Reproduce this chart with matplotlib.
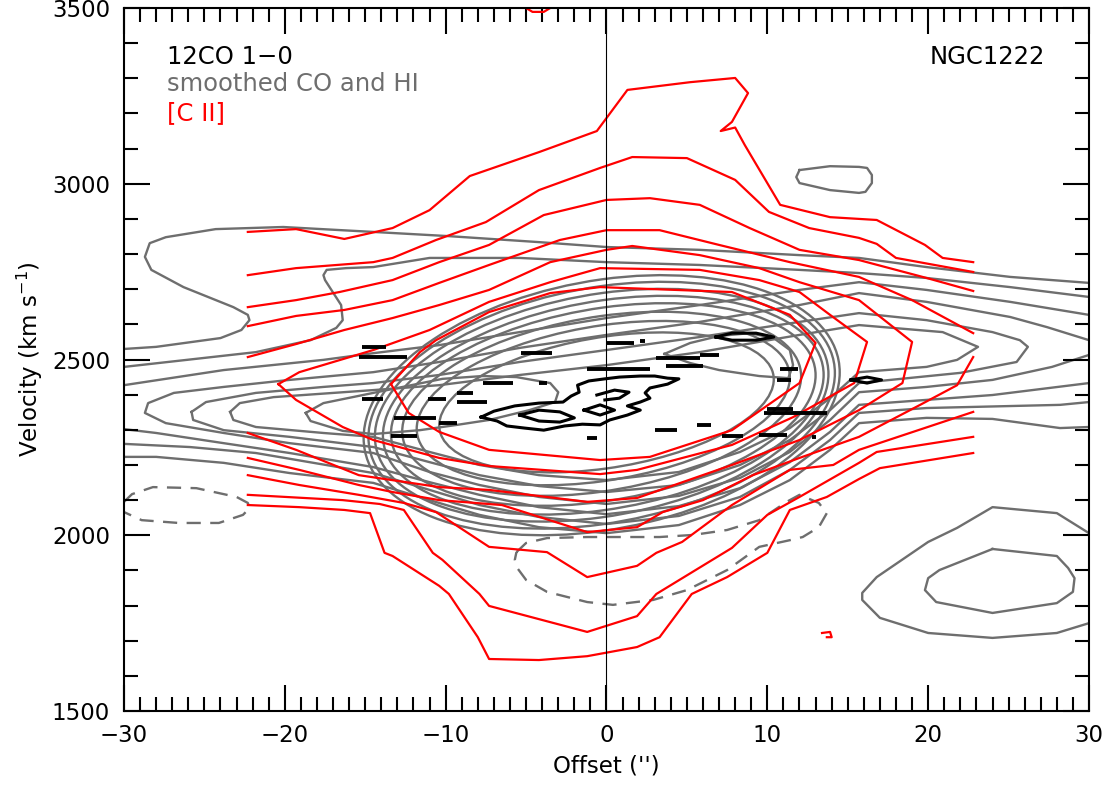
import numpy as np
import matplotlib
matplotlib.use("Agg")
import matplotlib.pyplot as plt
from matplotlib.patches import Ellipse
from matplotlib.transforms import Affine2D
from matplotlib.ticker import MultipleLocator

plt.rcParams['font.family'] = ['DejaVu Sans']

# ---------------- data (offset in arcsec, velocity in km/s) ----------------
# [C II] contours (red)
cii_1_top = [(-22.3,2863),(-19.3,2871),(-16.3,2843),(-13.3,2874),(-11.0,2925),(-8.5,3022),(-4.2,3090),(-0.6,3150),(1.3,3267),(5.2,3289),(8.0,3301),(8.8,3258),(7.8,3176),(7.1,3150),(8.0,3160),(8.6,3110),(10.8,2940),(13.9,2905),(16.8,2897),(19.8,2826),(20.9,2789),(22.8,2777)]
cii_1_bot = [(-22.3,2086),(-19.1,2080),(-16.3,2072),(-14.7,2063),(-13.8,1950),(-13.3,1941),(-10.4,1856),(-9.8,1833),(-8.0,1710),(-7.3,1648),(-4.2,1645),(-1.2,1656),(1.9,1682),(3.3,1710),(5.3,1833),(7.5,1881),(10.0,1950),(11.4,2072),(13.7,2109),(15.7,2160),(17.0,2191),(22.8,2234)]
cii_2_top = [(-22.3,2740),(-19.3,2760),(-14.5,2777),(-13.3,2789),(-10.6,2840),(-7.5,2891),(-4.2,2982),(-0.4,3045),(1.6,3076),(5.0,3073),(8.0,3011),(10.1,2920),(12.6,2874),(15.7,2846),(16.8,2829),(18.0,2789),(22.8,2749)]
cii_2_bot = [(-22.3,2115),(-16.4,2100),(-14.1,2089),(-12.6,2072),(-10.8,1950),(-10.2,1930),(-7.9,1833),(-7.3,1799),(-1.2,1725),(1.9,1770),(3.1,1833),(7.8,1964),(10.0,2058),(12.0,2109),(15.7,2206),(16.8,2237),(22.8,2280)]
cii_3_top = [(-22.3,2649),(-19.3,2669),(-16.6,2692),(-13.3,2726),(-10.4,2777),(-7.3,2826),(-3.9,2911),(0.0,2954),(2.7,2959),(5.8,2940),(8.9,2874),(12.0,2812),(15.7,2783),(19.9,2732),(22.8,2695)]
cii_3_bot = [(-22.3,2171),(-19.1,2143),(-15.4,2115),(-12.6,2092),(-10.6,2066),(-7.3,1967),(-3.7,1952),(-1.2,1881),(1.9,1913),(3.1,1950),(4.7,1981),(7.8,2086),(11.4,2186),(14.1,2200),(15.7,2243),(22.8,2351)]
cii_4_top = [(-22.3,2595),(-19.3,2624),(-16.3,2641),(-13.3,2669),(-10.4,2718),(-7.3,2769),(-2.9,2840),(0.0,2868),(3.3,2868),(7.0,2826),(11.4,2777),(15.7,2735),(19.0,2669),(22.8,2575)]
cii_4_bot = [(-22.3,2220),(-19.1,2186),(-15.4,2143),(-13.3,2123),(-10.4,2100),(-6.5,2086),(-1.2,2009),(1.9,2023),(3.5,2066),(6.0,2100),(9.1,2171),(12.0,2220),(15.7,2280),(19.5,2371),(21.8,2427),(22.8,2507)]
cii_5 = [(-22.3,2507),(-19.3,2544),(-16.3,2584),(-13.3,2618),(-10.4,2655),(-7.3,2698),(-3.5,2777),(0.0,2812),(1.6,2823),(5.8,2797),(9.5,2760),(12.0,2720),(15.7,2669),(19.0,2550),(18.4,2433),(15.7,2356),(12.0,2271),(7.8,2200),(1.9,2106),(-1.2,2095),(-7.3,2129),(-10.4,2137),(-15.4,2171),(-19.3,2243),(-22.3,2291)]
cii_6 = [(-20.4,2430),(-19.1,2464),(-14.5,2527),(-11.0,2584),(-7.3,2664),(-3.5,2720),(-0.4,2760),(5.8,2755),(9.5,2726),(12.0,2692),(13.9,2627),(16.2,2550),(15.4,2433),(11.6,2336),(7.8,2257),(1.9,2186),(-0.4,2174),(-7.3,2197),(-10.4,2220),(-14.5,2271),(-16.4,2308),(-19.3,2385),(-20.4,2430)]
cii_7 = [(-13.4,2430),(-11.6,2521),(-10.6,2555),(-7.3,2635),(-3.5,2689),(-0.4,2706),(7.8,2692),(11.4,2627),(13.0,2547),(12.0,2433),(7.8,2299),(2.7,2223),(-0.4,2214),(-7.3,2243),(-10.4,2294),(-12.3,2348),(-13.4,2430)]
cii_hook = [(13.4,1722),(13.9,1725),(14.0,1710),(13.7,1710)]
cii_top_edge = [(-5.0,3500),(-4.6,3489),(-3.9,3489),(-3.5,3500)]

# smoothed HI contours (gray)
hi_1_top = [(-30.0,2530),(-28.0,2536),(-24.0,2561),(-22.7,2584),(-22.2,2612),(-22.3,2627),(-23.2,2649),(-26.3,2706),(-28.3,2755),(-28.7,2792),(-28.4,2831),(-27.4,2848),(-24.3,2871),(-20.1,2877),(-14.5,2863),(-9.8,2851),(-4.2,2834),(0.0,2820),(5.8,2812),(12.0,2797),(15.7,2789),(19.9,2763),(25.1,2735),(30.0,2718)]
hi_1_bot = [(-30.0,2223),(-28.0,2223),(-23.8,2206),(-19.7,2177),(-14.5,2149),(-11.0,2100),(-7.9,2058),(-4.2,2023),(0.0,2006),(4.5,2029),(8.3,2086),(11.4,2157),(13.9,2243),(15.7,2319),(19.9,2334),(24.0,2331),(28.2,2305),(30.0,2308)]
hi_2_top = [(-30.0,2479),(-21.8,2521),(-18.4,2555),(-16.8,2590),(-16.4,2612),(-16.5,2655),(-17.5,2726),(-17.6,2740),(-17.4,2755),(-16.2,2760),(-14.5,2763),(-11.0,2789),(-5.4,2789),(0.0,2777),(5.8,2769),(12.0,2755),(15.7,2746),(19.9,2732),(25.1,2706),(30.0,2678)]
hi_2_bot = [(-30.0,2260),(-25.9,2251),(-21.8,2234),(-14.5,2177),(-11.0,2129),(-7.9,2086),(-4.2,2052),(0.0,2032),(4.5,2055),(8.3,2109),(11.4,2186),(13.9,2271),(15.7,2348),(19.9,2362),(28.2,2371),(30.0,2379)]
hi_3_top = [(-30.0,2427),(-23.8,2470),(-17.6,2499),(-14.5,2518),(-10.4,2541),(-5.4,2578),(0.0,2618),(5.8,2655),(12.0,2698),(15.7,2720),(19.9,2698),(25.1,2664),(30.0,2627)]
hi_3_bot = [(-30.0,2302),(-28.0,2291),(-23.8,2262),(-19.7,2234),(-14.5,2194),(-11.0,2151),(-7.9,2115),(-4.2,2080),(0.0,2060),(4.5,2083),(8.3,2134),(11.4,2208),(13.9,2294),(15.7,2371),(24.0,2399),(30.0,2433)]
hi_4 = [(30.0,2555),(27.4,2592),(25.1,2621),(19.9,2664),(15.7,2689),(12.0,2655),(5.8,2607),(0.0,2570),(-5.4,2533),(-10.4,2493),(-14.5,2464),(-19.7,2442),(-23.8,2422),(-26.9,2405),(-28.5,2376),(-28.7,2348),(-27.4,2319),(-23.8,2291),(-19.7,2262),(-14.5,2234),(-11.0,2180),(-7.9,2143),(-4.2,2109),(0.0,2089),(4.5,2112),(8.3,2163),(11.4,2237),(13.9,2328),(15.7,2407),(19.9,2422),(24.0,2442),(27.7,2479),(30.0,2513)]
hi_5 = [(-25.8,2351),(-24.9,2379),(-21.8,2405),(-17.6,2422),(-14.5,2433),(-10.4,2456),(-5.4,2493),(0.0,2527),(5.8,2564),(12.0,2607),(15.7,2632),(19.9,2612),(24.0,2578),(25.7,2555),(26.2,2536),(25.5,2493),(22.0,2462),(15.7,2433),(13.9,2356),(11.4,2271),(8.3,2200),(4.5,2143),(0.0,2123),(-4.2,2140),(-7.9,2171),(-11.0,2208),(-14.5,2251),(-19.7,2280),(-23.8,2299),(-25.7,2328),(-25.8,2351)]
hi_6 = [(-23.4,2351),(-22.8,2376),(-20.7,2393),(-14.5,2413),(-10.4,2427),(-5.4,2456),(0.0,2484),(5.8,2521),(12.0,2570),(15.7,2598),(20.9,2578),(23.1,2536),(21.8,2499),(19.9,2479),(15.7,2464),(13.9,2390),(11.4,2305),(8.3,2237),(4.5,2180),(0.0,2157),(-4.2,2171),(-7.9,2200),(-11.0,2237),(-14.5,2280),(-17.6,2291),(-21.8,2308),(-23.2,2328),(-23.4,2351)]
hi_7 = [(-18.7,2348),(-17.6,2376),(-14.5,2405),(-10.2,2445),(-7.7,2453),(-5.6,2450),(-3.5,2433),(-3.0,2407),(-3.2,2379),(-4.8,2356),(-7.3,2328),(-9.3,2314),(-11.6,2299),(-14.5,2288),(-16.4,2297),(-18.4,2325),(-18.7,2348)]
gray_ne_loop = [(12.0,3039),(13.9,3050),(15.7,3048),(16.2,3045),(16.5,3025),(16.5,3002),(16.1,2977),(15.7,2974),(13.9,2982),(12.0,3002),(11.8,3019),(12.0,3039)]
gray_se_outer = [(30.0,2006),(28.0,2063),(24.0,2080),(21.8,2021),(20.0,1981),(16.8,1881),(15.9,1836),(15.9,1816),(17.0,1765),(20.0,1722),(24.0,1708),(28.0,1722),(30.0,1750)]
gray_se_inner = [(24.0,1961),(28.0,1941),(28.7,1907),(29.1,1878),(29.0,1839),(28.0,1807),(24.0,1779),(20.5,1810),(19.8,1844),(20.0,1878),(20.7,1901),(24.0,1961)]
neg_sw = [(-30.0,2095),(-29.5,2117),(-28.2,2137),(-25.5,2134),(-23.0,2109),(-22.3,2092),(-22.2,2077),(-22.6,2058),(-24.1,2035),(-26.6,2035),(-28.9,2043),(-30.0,2066)]
neg_s = [(-5.6,1952),(-5.0,1978),(-3.7,1992),(-1.2,1995),(1.2,1995),(3.3,1995),(5.4,2001),(7.5,2015),(9.5,2043),(11.2,2095),(12.0,2115),(13.2,2092),(13.7,2063),(13.2,2023),(12.2,1995),(11.4,1986),(9.5,1967),(7.5,1901),(5.0,1844),(2.9,1816),(0.4,1802),(-1.2,1810),(-3.7,1839),(-5.0,1873),(-5.6,1910),(-5.7,1930),(-5.6,1952)]

# smoothed CO contours (gray, nested tilted rings)
co_xc = [-0.3, -0.3, -0.3, -0.2, -0.2, -0.3, -0.2, 0.0]
co_vc = [2370, 2370, 2370, 2370, 2372, 2374, 2376, 2378]
co_width = [29.6, 29.0, 28.2, 27.4, 26.4, 24.8, 23.2, 20.8]
co_height = [716, 678, 638, 598, 552, 500, 444, 376]
co_tilt = 6.3  # km/s per arcsec
co_inner = [(3.6,2516),(5.2,2547),(7.0,2567),(8.9,2575),(10.4,2561),(11.4,2527),(11.6,2484),(11.3,2447),(9.5,2453),(7.0,2470),(5.2,2490),(3.6,2516)]

# 12CO 1-0 contours (black)
co10_blob = [(-7.8,2336),(-7.0,2353),(-5.7,2368),(-4.2,2376),(-2.7,2379),(-2.2,2396),(-1.7,2407),(-1.8,2427),(-1.1,2439),(-0.1,2445),(0.8,2450),(2.1,2453),(3.0,2453),(3.8,2447),(4.5,2445),(3.8,2430),(2.7,2419),(2.4,2405),(2.7,2390),(2.1,2379),(1.3,2368),(2.1,2356),(1.3,2342),(0.2,2328),(-0.4,2314),(-1.5,2316),(-2.6,2311),(-3.9,2299),(-5.1,2305),(-6.2,2311),(-6.8,2325),(-7.8,2336)]
co10_loop_a = [(-5.4,2342),(-4.2,2356),(-2.9,2351),(-2.0,2334),(-2.9,2322),(-4.2,2325),(-5.4,2342)]
co10_loop_b = [(-1.4,2356),(-0.4,2371),(0.5,2356),(-0.4,2342),(-1.4,2356)]
co10_wiggle = [(-0.6,2399),(0.5,2413),(1.4,2407),(0.8,2390),(-0.1,2385)]
co10_loop_n = [(6.8,2564),(7.8,2575),(9.3,2575),(10.4,2564),(9.3,2555),(7.8,2555),(6.8,2564)]
co10_loop_e = [(15.2,2442),(16.2,2450),(17.1,2442),(16.2,2433),(15.2,2442)]
co10_dash_v = [2536, 2507, 2388, 2388, 2405, 2379, 2334, 2319, 2282, 2433, 2433, 2518, 2473, 2277, 2547, 2553, 2504, 2513, 2481, 2473, 2442, 2299, 2314, 2282, 2285, 2348, 2359, 2280]
co10_dash_x0 = [-15.2, -15.4, -15.2, -11.1, -9.3, -9.3, -13.2, -10.4, -13.4, -7.7, -4.2, -5.3, -1.2, -1.2, 0.0, 2.1, 3.1, 5.8, 3.7, 10.8, 10.6, 3.0, 5.6, 7.2, 9.5, 9.8, 10.0, 12.8]
co10_dash_x1 = [-13.7, -12.4, -13.9, -10.0, -8.3, -7.4, -10.6, -9.3, -11.8, -5.8, -3.7, -3.4, 2.7, -0.6, 1.7, 2.4, 5.8, 7.0, 6.0, 11.9, 11.5, 4.4, 6.5, 8.5, 11.2, 13.7, 11.6, 13.0]

x_ticks = [-30, -20, -10, 0, 10, 20, 30]
v_ticks = [1500, 2000, 2500, 3000, 3500]

# ---------------- figure ----------------
GRAY = '#6e6e6e'
RED = '#ff0000'

fig = plt.figure(figsize=(11.11, 7.86), dpi=100)
ax = fig.add_axes([0.1116, 0.0954, 0.8686, 0.8944])


def trace(pts, **kw):
    xs, vs = zip(*pts)
    ax.plot(xs, vs, **kw)


gkw = dict(color=GRAY, lw=1.7, zorder=1, solid_joinstyle='round')
for c in [hi_1_top, hi_1_bot, hi_2_top, hi_2_bot, hi_3_top, hi_3_bot, hi_4,
          hi_5, hi_6, hi_7, gray_ne_loop, gray_se_outer, gray_se_inner, co_inner]:
    trace(c, **gkw)
for c in [neg_sw, neg_s]:
    trace(c, color=GRAY, lw=1.7, zorder=1, linestyle=(0, (6, 4)))

for xc, vc, w, h in zip(co_xc, co_vc, co_width, co_height):
    shear = Affine2D(np.array([[1.0, 0.0, 0.0],
                               [co_tilt, 1.0, -co_tilt * xc],
                               [0.0, 0.0, 1.0]]))
    ax.add_patch(Ellipse((xc, vc), w, h, fill=False, ec=GRAY, lw=1.7,
                         zorder=1, transform=shear + ax.transData))

rkw = dict(color=RED, lw=1.6, zorder=2)
for c in [cii_1_top, cii_1_bot, cii_2_top, cii_2_bot, cii_3_top, cii_3_bot,
          cii_4_top, cii_4_bot, cii_5, cii_6, cii_7, cii_hook, cii_top_edge]:
    trace(c, **rkw)

bkw = dict(color='black', lw=2.2, zorder=3)
for c in [co10_blob, co10_loop_a, co10_loop_b, co10_wiggle, co10_loop_n, co10_loop_e]:
    trace(c, **bkw)
for v, x0, x1 in zip(co10_dash_v, co10_dash_x0, co10_dash_x1):
    ax.plot([x0, x1], [v, v], color='black', lw=2.8, solid_capstyle='butt', zorder=3)

ax.axvline(0, color='black', lw=0.8, zorder=4)

ax.set_xlim(-30, 30)
ax.set_ylim(1500, 3500)
ax.set_xticks(x_ticks)
ax.set_yticks(v_ticks)
ax.xaxis.set_minor_locator(MultipleLocator(1))
ax.yaxis.set_minor_locator(MultipleLocator(100))
ax.tick_params(which='both', direction='in', top=True, right=True, width=1.5)
ax.tick_params(which='major', length=19, labelsize=16.5)
ax.tick_params(axis='y', which='major', pad=10)
ax.tick_params(axis='x', which='major', pad=9)
ax.tick_params(which='minor', length=10)
for s in ax.spines.values():
    s.set_linewidth(1.5)

ax.set_xlabel("Offset ('')", fontsize=16.5, labelpad=6)
ax.set_ylabel("Velocity (km s$^{-1}$)", fontsize=16.5, labelpad=5)

ax.text(0.0446, 0.930, '12CO 1\u22120', transform=ax.transAxes, fontsize=17.5,
        color='black', va='center', ha='left')
ax.text(0.0446, 0.892, 'smoothed CO and HI', transform=ax.transAxes, fontsize=17.5,
        color=GRAY, va='center', ha='left')
ax.text(0.0446, 0.851, '[C II]', transform=ax.transAxes, fontsize=17.5,
        color=RED, va='center', ha='left')
ax.text(0.954, 0.930, 'NGC1222', transform=ax.transAxes, fontsize=17.5,
        color='black', va='center', ha='right')

fig.savefig('out.png', dpi=100)
